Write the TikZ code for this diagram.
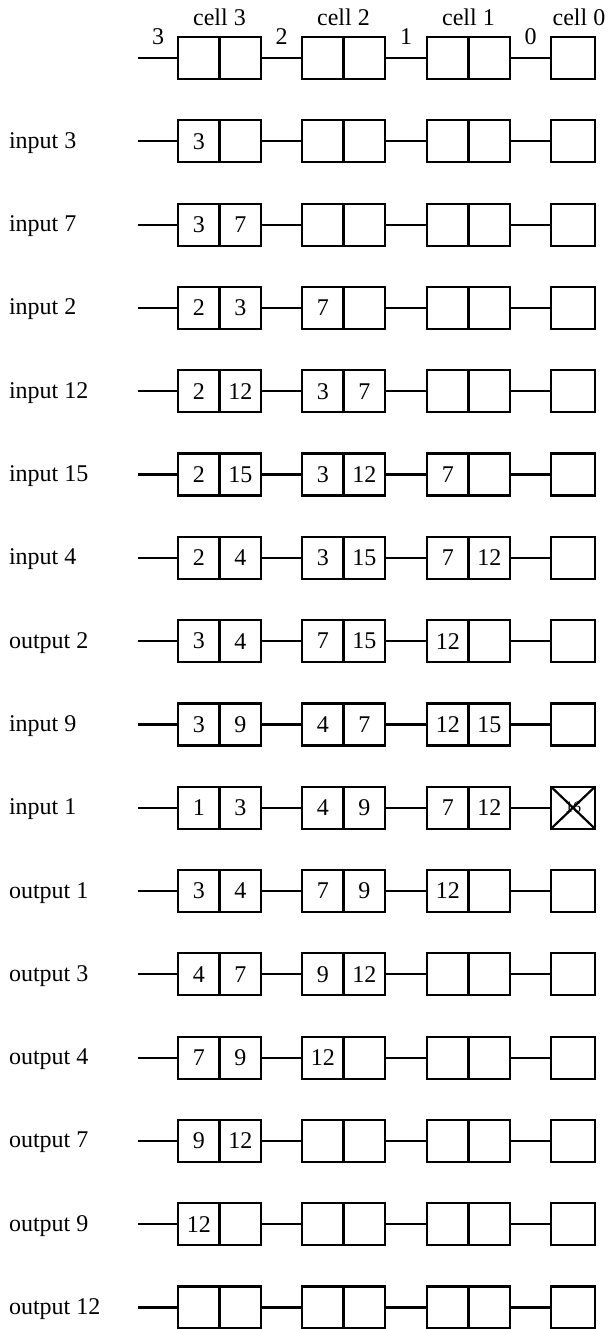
\documentclass[tikz,border=0pt]{standalone}
\usepackage{fontspec}
\setmainfont{Liberation Serif}
\usetikzlibrary{positioning,calc}
\tikzset{
	slot/.style={draw=black,line width=1.1pt,minimum width=20.75pt,minimum height=21pt,inner sep=0pt,outer sep=0pt},
	last/.style={slot,minimum width=22pt},
	link/.style={draw=black,line width=1.1pt},
}
\begin{document}
\begin{tikzpicture}[x=0.5pt,y=-0.5pt,every node/.style={font=\fontsize{12}{14}\selectfont}]
	\useasboundingbox (0,0) rectangle (607,1329);
	\foreach \k/\lab/\va/\vb/\vc/\vd/\ve/\vf/\vg in {
		0/{}/{}/{}/{}/{}/{}/{}/{},
		1/input 3/3/{}/{}/{}/{}/{}/{},
		2/input 7/3/7/{}/{}/{}/{}/{},
		3/input 2/2/3/7/{}/{}/{}/{},
		4/input 12/2/12/3/7/{}/{}/{},
		5/input 15/2/15/3/12/7/{}/{},
		6/input 4/2/4/3/15/7/12/{},
		7/output 2/3/4/7/15/12/{}/{},
		8/input 9/3/9/4/7/12/15/{},
		9/input 1/1/3/4/9/7/12/{\fontsize{8}{9}\selectfont 16},
		10/output 1/3/4/7/9/12/{}/{},
		11/output 3/4/7/9/12/{}/{}/{},
		12/output 4/7/9/12/{}/{}/{}/{},
		13/output 7/9/12/{}/{}/{}/{}/{},
		14/output 9/12/{}/{}/{}/{}/{}/{},
		15/output 12/{}/{}/{}/{}/{}/{}/{}}
	{
		\pgfmathsetmacro{\yy}{58+83.3*\k}
		\node[anchor=base west] (lab-\k) at (2,\yy+7) {\lab};
		\coordinate (in-\k) at (138,\yy);
		\node[slot] (c3a-\k) at (198.75,\yy) {\va};
		\node[slot,right=0pt of c3a-\k] (c3b-\k) {\vb};
		\node[slot] (c2a-\k) at (322.75,\yy) {\vc};
		\node[slot,right=0pt of c2a-\k] (c2b-\k) {\vd};
		\node[slot] (c1a-\k) at (447.75,\yy) {\ve};
		\node[slot,right=0pt of c1a-\k] (c1b-\k) {\vf};
		\node[last] (c0-\k) at (573,\yy) {\vg};
		\draw[link] (in-\k) -- (c3a-\k.west);
		\draw[link] (c3b-\k.east) -- (c2a-\k.west);
		\draw[link] (c2b-\k.east) -- (c1a-\k.west);
		\draw[link] (c1b-\k.east) -- (c0-\k.west);
	}
	% crossed out cell 0
	\draw[link] (c0-9.north west) -- (c0-9.south east)
		(c0-9.north east) -- (c0-9.south west);
	% header
	\node[above=3pt] (n3) at ($(in-0)!0.5!(c3a-0.west)$) {3};
	\node[above=3pt] (n2) at ($(c3b-0.east)!0.5!(c2a-0.west)$) {2};
	\node[above=3pt] (n1) at ($(c2b-0.east)!0.5!(c1a-0.west)$) {1};
	\node[above=3pt] (n0) at ($(c1b-0.east)!0.5!(c0-0.west)$) {0};
	\node[above=2pt] (h3) at (c3a-0.north east) {cell 3};
	\node[above=2pt] (h2) at (c2a-0.north east) {cell 2};
	\node[above=2pt] (h1) at (c1a-0.north east) {cell 1};
	\node[above=2pt,xshift=3pt] (h0) at (c0-0.north) {cell 0};
\end{tikzpicture}
\end{document}
